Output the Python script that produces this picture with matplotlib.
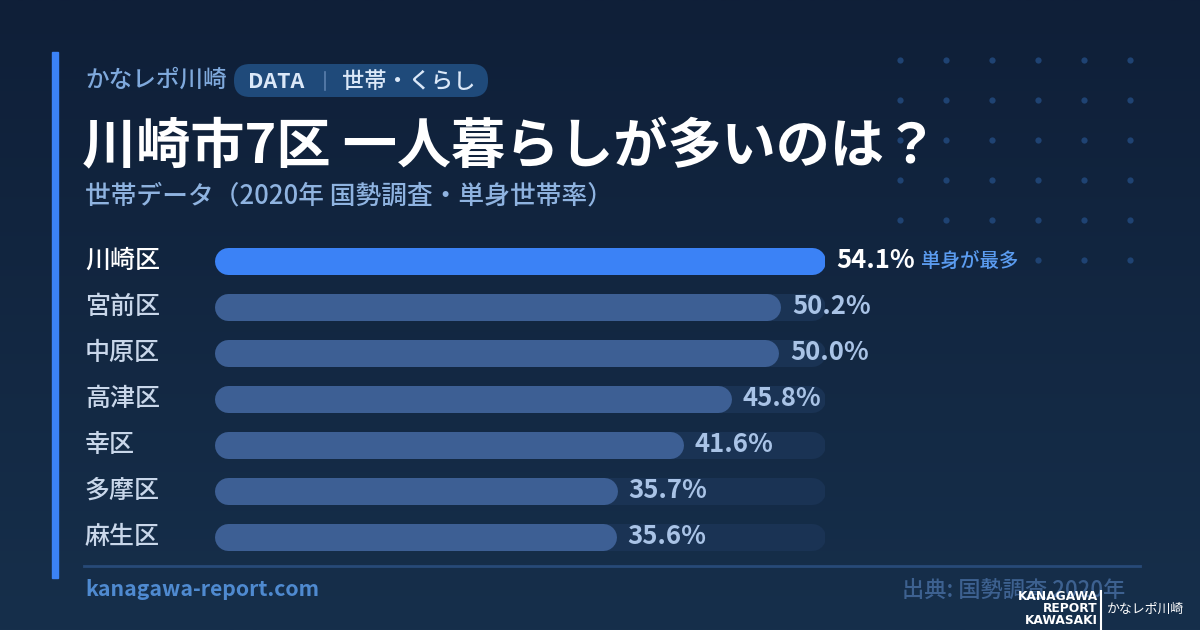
import numpy as np
import matplotlib
matplotlib.use('Agg')
import matplotlib.pyplot as plt
from matplotlib.patches import FancyBboxPatch, Rectangle
from matplotlib.colors import LinearSegmentedColormap

plt.rcParams['font.family'] = ['Noto Sans CJK JP', 'DejaVu Sans']

# データ（2020年 国勢調査・単身世帯率）
wards = ['川崎区', '宮前区', '中原区', '高津区', '幸区', '多摩区', '麻生区']
rates = [54.1, 50.2, 50.0, 45.8, 41.6, 35.7, 35.6]
top_note = '単身が最多'

title = '川崎市7区 一人暮らしが多いのは？'
subtitle = '世帯データ（2020年 国勢調査・単身世帯率）'
brand = 'かなレポ川崎'
source = '出典: 国勢調査 2020年'
site = 'kanagawa-report.com'

W, H = 1200, 630
fig = plt.figure(figsize=(12, 6.3), dpi=100)

# 背景（ピクセル座標）
bg = fig.add_axes([0, 0, 1, 1])
bg.set_xlim(0, W)
bg.set_ylim(H, 0)
bg.axis('off')
cmap = LinearSegmentedColormap.from_list('bg', ['#0f1f38', '#162f4b'])
grad = np.linspace(0, 1, 256).reshape(-1, 1)
bg.imshow(grad, cmap=cmap, extent=[0, W, H, 0], aspect='auto', zorder=0)

# 左のアクセントバー
bg.add_patch(Rectangle((52, 52), 6, 526, color='#3b82f6', zorder=1))

# ドット
for dx in range(900, 1131, 46):
    for dy in range(60, 261, 40):
        bg.plot(dx, dy, 'o', ms=4.5, color='#1f4373', mec='none', zorder=1)

# ヘッダー
bg.text(85, 80, brand, color='#7fa9dc', fontsize=17, fontweight='medium',
        va='center', ha='left', zorder=3)
bg.add_patch(FancyBboxPatch((234, 64), 254, 33, boxstyle='round,pad=0,rounding_size=16',
                            fc='#1f4a7a', ec='none', zorder=2))
bg.text(248, 81, 'DATA', color='#dbe8f8', fontsize=15.5, fontweight='bold', va='center',
        zorder=3)
bg.plot([325, 325], [72, 90], color='#5b80ad', lw=1.2, zorder=3)
bg.text(342, 81, '世帯・くらし', color='#dbe8f8', fontsize=16, fontweight='medium',
        va='center', zorder=3)

# タイトル
bg.text(82, 148, title, color='white', fontsize=39, fontweight='bold', va='center', zorder=3)
bg.text(85, 196, subtitle, color='#8fb3e0', fontsize=18.5, fontweight='medium',
        va='center', zorder=3)

# 下の区切り線とフッター
bg.plot([84, 1140], [566, 566], color='#274a78', lw=2, zorder=2)
bg.text(85, 590, site, color='#4f8ad0', fontsize=15.3, fontweight='bold', va='center',
        zorder=3)
bg.text(1125, 590, source, color='#3d6190', fontsize=16, fontweight='medium',
        va='center', ha='right', zorder=3)

# ロゴ
for txt, yy in zip(['KANAGAWA', 'REPORT', 'KAWASAKI'], [597, 609, 621]):
    bg.text(1098, yy, txt, color='white', fontsize=8.8, fontweight='bold', ha='right',
            va='center', family=['DejaVu Sans'], zorder=4)
bg.plot([1101, 1101], [591, 630], color='white', lw=1.5, zorder=4)
bg.text(1107, 609, brand, color='white', fontsize=9.3, va='center', ha='left', zorder=4)

# 棒グラフ
x0, x1 = 214, 825
row_h = 46
top_y = 261 - row_h / 2
ax = fig.add_axes([x0 / W, 1 - (top_y + row_h * len(wards)) / H,
                   (x1 - x0) / W, row_h * len(wards) / H])
ax.set_xlim(0, max(rates))
ax.set_ylim(len(wards) - 0.5, -0.5)
ax.axis('off')
ax.patch.set_alpha(0)

bar_px = 27
lw_pt = bar_px * 0.72
r = (bar_px / 2) * max(rates) / (x1 - x0)  # 丸端の半径（データ単位）

for i, (name, v) in enumerate(zip(wards, rates)):
    is_top = i == 0
    ax.plot([r, max(rates) - r], [i, i], color='#1a3354', lw=lw_pt,
            solid_capstyle='round', zorder=1)
    ax.plot([r, v - r], [i, i], color='#3b82f6' if is_top else '#3d5f94', lw=lw_pt,
            solid_capstyle='round', zorder=2)
    ax.annotate(f'{v:.1f}%', (v, i), xytext=(8, 0), textcoords='offset points',
                color='white' if is_top else '#a9c3e6', fontsize=18.5, fontweight='bold',
                va='center', ha='left', annotation_clip=False, zorder=3)
    bg.text(85, top_y + row_h * (i + 0.5), name, color='white' if is_top else '#c9d7ea',
            fontsize=18, fontweight='medium', va='center', ha='left', zorder=3)

ax.annotate(top_note, (rates[0], 0), xytext=(69, 0), textcoords='offset points',
            color='#5b9cf0', fontsize=14, fontweight='medium', va='center', ha='left',
            annotation_clip=False, zorder=3)

fig.savefig('out.png', dpi=100)
